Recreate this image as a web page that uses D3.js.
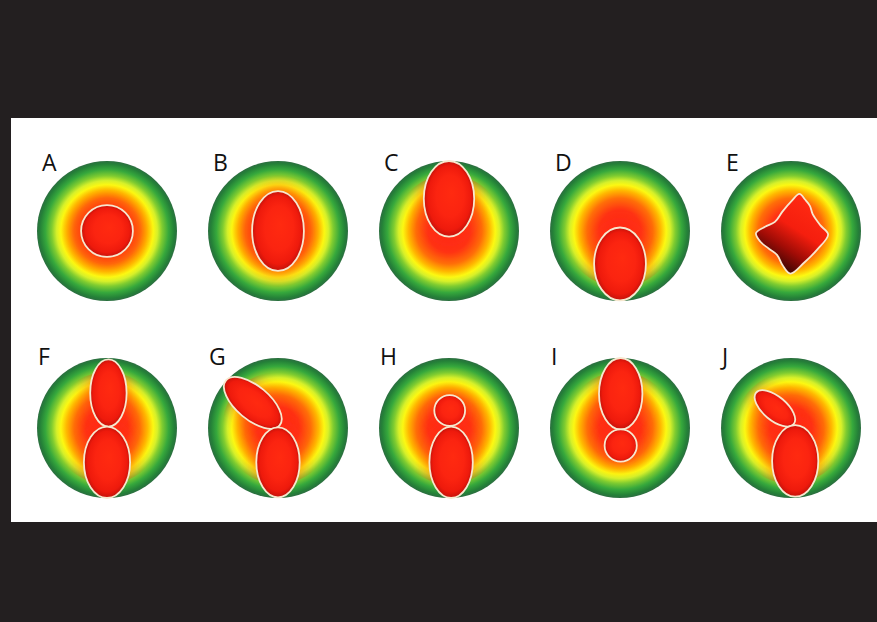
<!DOCTYPE html>
<html lang="en">
<head>
  <meta charset="UTF-8">
  <title>Panels A-J</title>
  <script src="https://d3js.org/d3.v7.min.js"></script>
  <style>
    body { margin: 0; background: #231f20; }
    svg { display: block; }
  </style>
</head>
<body>
  <div id="chart"></div>
  <script>
    // panel letters, one array per row
    const topRow = ["A", "B", "C", "D", "E"];
    const bottomRow = ["F", "G", "H", "I", "J"];

    // inner blobs of each panel, in units where the outer disc radius is 100
    // each entry: [dx, dy, rx, ry, angle]
    const shapesA = [[0, 0, 37, 37, 0]];
    const shapesB = [[0, 0, 37, 57, 0]];
    const shapesC = [[0, -46, 36, 54, 0]];
    const shapesD = [[0, 47, 37, 52, 0]];
    const shapesF = [[2, -50, 26, 48, 0], [0, 49, 33, 51, 0]];
    const shapesG = [[-36, -36, 50, 24, 40], [0, 49, 31, 50, 0]];
    const shapesH = [[1, -25, 22, 22, 0], [3, 49, 31, 51, 0]];
    const shapesI = [[1, -49, 31, 51, 0], [1, 25, 23, 23, 0]];
    const shapesJ = [[-23, -28, 35, 17, 40], [6, 47, 33, 51, 0]];

    // outline of the irregular blob in panel E (same units)
    const outlineE = [
      [12, -53], [20, -45], [27, -36], [31, -24], [42, -8], [53, 5],
      [38, 26], [19, 45], [-1, 61], [-12, 49], [-20, 34], [-32, 25],
      [-44, 15], [-50, 3], [-37, -6], [-23, -13], [-12, -28], [1, -43]
    ];

    const width = 877;
    const height = 622;

    const svg = d3.select("#chart")
      .append("svg")
      .attr("width", width)
      .attr("height", height);

    const defs = svg.append("defs");

    // outer disc: red core fading through orange and yellow to dark green
    const disc = defs.append("radialGradient").attr("id", "disc");
    [[0, "#ff2416"], [0.3, "#ff3214"], [0.47, "#ff6e08"], [0.58, "#ffb800"],
     [0.66, "#fcf812"], [0.72, "#d6f02a"], [0.79, "#80cc30"], [0.88, "#36a83c"],
     [0.96, "#248038"], [1, "#2c6e40"]]
      .forEach(s => disc.append("stop").attr("offset", s[0]).attr("stop-color", s[1]));

    const blob = defs.append("radialGradient").attr("id", "blob")
      .attr("fx", 0.55).attr("fy", 0.42);
    [[0, "#ff2a10"], [0.55, "#fb2410"], [0.85, "#ee1a0c"], [1, "#c4120a"]]
      .forEach(s => blob.append("stop").attr("offset", s[0]).attr("stop-color", s[1]));

    const dark = defs.append("linearGradient").attr("id", "dark")
      .attr("x1", 0.75).attr("y1", 0.1).attr("x2", 0.25).attr("y2", 0.95);
    [[0, "#ff2a12"], [0.4, "#f51e0e"], [0.68, "#a00c06"], [1, "#220402"]]
      .forEach(s => dark.append("stop").attr("offset", s[0]).attr("stop-color", s[1]));

    defs.append("filter").attr("id", "glow")
      .attr("x", "-50%").attr("y", "-50%").attr("width", "200%").attr("height", "200%")
      .append("feGaussianBlur").attr("stdDeviation", 8);

    // white sheet between the dark bands
    svg.append("rect")
      .attr("x", 11).attr("y", 118)
      .attr("width", width - 11).attr("height", 404)
      .attr("fill", "#ffffff");

    const x = d3.scalePoint().domain(d3.range(5)).range([107, 791]);
    const y = d3.scalePoint().domain([0, 1]).range([231, 428]);
    const unit = d3.scaleLinear().domain([0, 100]).range([0, 70]);

    const panels = [
      { row: 0, col: 0, shapes: shapesA },
      { row: 0, col: 1, shapes: shapesB },
      { row: 0, col: 2, shapes: shapesC },
      { row: 0, col: 3, shapes: shapesD },
      { row: 0, col: 4, shapes: [], outline: outlineE },
      { row: 1, col: 0, shapes: shapesF },
      { row: 1, col: 1, shapes: shapesG },
      { row: 1, col: 2, shapes: shapesH },
      { row: 1, col: 3, shapes: shapesI },
      { row: 1, col: 4, shapes: shapesJ }
    ];
    panels.forEach(p => { p.label = (p.row ? bottomRow : topRow)[p.col]; });

    const line = d3.line()
      .x(d => unit(d[0])).y(d => unit(d[1]))
      .curve(d3.curveCatmullRomClosed.alpha(0.5));

    // halo is kept inside the warm part of the disc
    defs.append("clipPath").attr("id", "inner")
      .append("circle").attr("r", unit(80));

    const g = svg.selectAll("g.panel")
      .data(panels)
      .enter()
      .append("g")
      .attr("class", "panel")
      .attr("transform", d => `translate(${x(d.col)},${y(d.row)})`);

    g.each(function(d) {
      const el = d3.select(this);

      el.append("circle")
        .attr("r", unit(100))
        .attr("fill", "url(#disc)");

      // soft red halo around each blob
      el.append("g").attr("clip-path", "url(#inner)")
        .selectAll("ellipse")
        .data(d.shapes)
        .enter()
        .append("ellipse")
        .attr("transform", s => `translate(${unit(s[0])},${unit(s[1])}) rotate(${s[4]})`)
        .attr("rx", s => unit(s[2]) * 1.2)
        .attr("ry", s => unit(s[3]) * 1.15)
        .attr("fill", "#ff3014")
        .attr("opacity", 0.45)
        .attr("filter", "url(#glow)");

      el.selectAll("ellipse.blob")
        .data(d.shapes)
        .enter()
        .append("ellipse")
        .attr("class", "blob")
        .attr("transform", s => `translate(${unit(s[0])},${unit(s[1])}) rotate(${s[4]})`)
        .attr("rx", s => unit(s[2]))
        .attr("ry", s => unit(s[3]))
        .attr("fill", "url(#blob)")
        .attr("stroke", "#f7e8cf")
        .attr("stroke-width", 1.8);

      if (d.outline) {
        el.append("path")
          .attr("d", line(d.outline))
          .attr("fill", "url(#dark)")
          .attr("stroke", "#f7e8cf")
          .attr("stroke-width", 1.8);
      }
    });

    g.append("text")
      .attr("x", d => d.row ? -69 : -65)
      .attr("y", d => d.row ? -63 : -60)
      .attr("font-family", "'Open Sans', sans-serif")
      .attr("font-size", 23)
      .attr("fill", "#111")
      .text(d => d.label);
  </script>
</body>
</html>
